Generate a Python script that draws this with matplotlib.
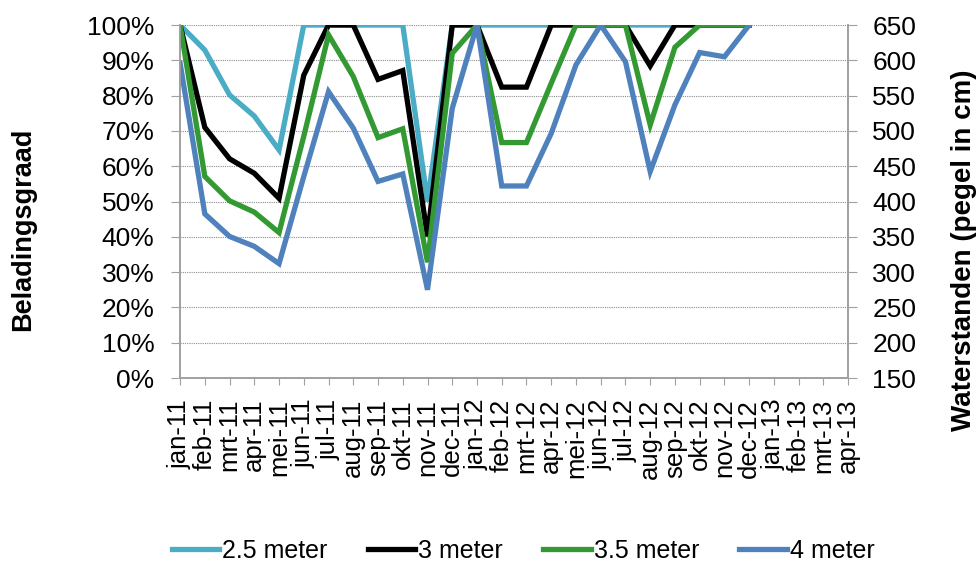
import numpy as np
import matplotlib
matplotlib.use("Agg")
import matplotlib.pyplot as plt
from matplotlib.ticker import FuncFormatter

plt.rcParams['font.family'] = ['Liberation Sans', 'DejaVu Sans']

# maanden op de x-as
maanden = ['jan-11', 'feb-11', 'mrt-11', 'apr-11', 'mei-11', 'jun-11', 'jul-11',
           'aug-11', 'sep-11', 'okt-11', 'nov-11', 'dec-11', 'jan-12', 'feb-12',
           'mrt-12', 'apr-12', 'mei-12', 'jun-12', 'jul-12', 'aug-12', 'sep-12',
           'okt-12', 'nov-12', 'dec-12', 'jan-13', 'feb-13', 'mrt-13', 'apr-13']

# beladingsgraad (%) per diepte, jan-11 t/m dec-12
m25 = [100, 92.9, 80.2, 74.2, 64.6, 100, 100, 100, 100, 100, 50.0, 100,
       100, 100, 100, 100, 100, 100, 100, 100, 100, 100, 100, 100]
m30 = [100, 71.0, 62.1, 58.0, 50.9, 85.8, 100, 100, 84.6, 87.1, 40.1, 100,
       100, 82.4, 82.4, 100, 100, 100, 100, 88.4, 100, 100, 100, 100]
m35 = [100, 57.1, 50.2, 47.0, 41.2, 68.5, 97.2, 85.4, 68.1, 70.6, 32.8, 92.0,
       100, 66.7, 66.7, 83.5, 100, 100, 100, 71.7, 93.7, 100, 100, 100]
m40 = [89.2, 46.5, 40.1, 37.3, 32.4, 57.1, 81.1, 70.8, 55.7, 57.8, 25.0, 76.4,
       100, 54.4, 54.4, 69.3, 88.7, 100, 89.6, 58.5, 77.4, 92.2, 91.0, 100]

series = [('2.5 meter', m25, '#4BACC6'),
          ('3 meter', m30, '#000000'),
          ('3.5 meter', m35, '#339933'),
          ('4 meter', m40, '#4F81BD')]

fig = plt.figure(figsize=(9.76, 5.67), dpi=100)
ax = fig.add_axes([0.1845, 0.3333, 0.6845, 0.6226])
ax2 = ax.twinx()

x = np.arange(len(m25))
for naam, waarden, kleur in series:
    ax.plot(x, np.array(waarden) / 100, color=kleur, lw=3.8, label=naam,
            solid_joinstyle='miter', zorder=3)

ax.set_xlim(0, len(maanden) - 1)
ax.set_ylim(0, 1)
ax.set_yticks(np.arange(0, 1.01, 0.1))
ax.yaxis.set_major_formatter(FuncFormatter(lambda v, p: f'{v*100:.0f}%'))
ax.set_xticks(np.arange(len(maanden)))
ax.set_xticklabels(maanden, rotation=90, fontsize=18.5)
ax.tick_params(axis='y', labelsize=19, length=6.5, color='#a0a0a0', pad=12)
ax.tick_params(axis='x', length=5, color='#a0a0a0', pad=10)
ax.grid(axis='y', color='#8c8c8c', linestyle=(0, (1, 1)), lw=0.8)
ax.set_axisbelow(True)

ax2.set_ylim(150, 650)
ax2.set_yticks(np.arange(150, 651, 50))
ax2.tick_params(axis='y', labelsize=19, length=6.5, color='#a0a0a0', pad=11)

for a in (ax, ax2):
    a.spines['top'].set_visible(False)
    for s in ('left', 'right', 'bottom'):
        a.spines[s].set_color('#a0a0a0')
        a.spines[s].set_linewidth(1.2)

fig.text(0.024, 0.596, 'Beladingsgraad', rotation=90, fontsize=19.5,
         fontweight='bold', ha='center', va='center')
fig.text(0.988, 0.559, 'Waterstanden (pegel in cm)', rotation=90, fontsize=20,
         fontweight='bold', ha='center', va='center')

handles, labels = ax.get_legend_handles_labels()
fig.legend(handles, labels, loc='center', bbox_to_anchor=(0.536, 0.028),
           ncol=4, frameon=False, fontsize=18, handlelength=1.9,
           handletextpad=0.12, columnspacing=1.6)

fig.savefig('out.png', dpi=100)
